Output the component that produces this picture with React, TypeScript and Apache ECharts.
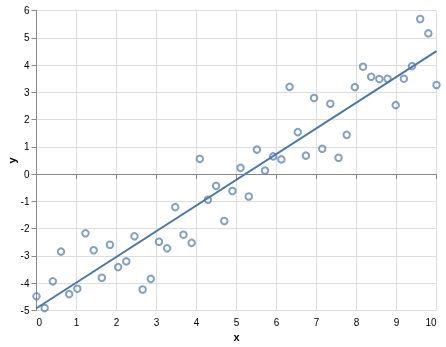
import React, { useEffect, useRef } from "react";
import * as echarts from "echarts";

const xValues = [
  0, 0.204, 0.408, 0.612, 0.816, 1.02, 1.224, 1.429, 1.633, 1.837,
  2.041, 2.245, 2.449, 2.653, 2.857, 3.061, 3.265, 3.469, 3.673, 3.878,
  4.082, 4.286, 4.49, 4.694, 4.898, 5.102, 5.306, 5.51, 5.714, 5.918,
  6.122, 6.327, 6.531, 6.735, 6.939, 7.143, 7.347, 7.551, 7.755, 7.959,
  8.163, 8.367, 8.571, 8.776, 8.98, 9.184, 9.388, 9.592, 9.796, 10,
];

const yValues = [
  -4.48, -4.91, -3.93, -2.84, -4.4, -4.2, -2.17, -2.79, -3.8, -2.59,
  -3.41, -3.2, -2.28, -4.23, -3.84, -2.48, -2.72, -1.21, -2.22, -2.52,
  0.56, -0.94, -0.43, -1.72, -0.62, 0.23, -0.82, 0.9, 0.13, 0.65,
  0.54, 3.2, 1.54, 0.68, 2.79, 0.93, 2.58, 0.6, 1.44, 3.19,
  3.94, 3.57, 3.49, 3.5, 2.53, 3.5, 3.96, 5.69, 5.16, 3.27,
];

const FONT = "Liberation Sans, Arial, Helvetica, sans-serif";
const BLUE = "#4c78a8";

function regression(xs: number[], ys: number[]) {
  const n = xs.length;
  const mx = xs.reduce((a, b) => a + b, 0) / n;
  const my = ys.reduce((a, b) => a + b, 0) / n;
  let num = 0;
  let den = 0;
  for (let i = 0; i < n; i++) {
    num += (xs[i] - mx) * (ys[i] - my);
    den += (xs[i] - mx) * (xs[i] - mx);
  }
  const slope = num / den;
  const intercept = my - slope * mx;
  return { slope, intercept };
}

export default function App() {
  const ref = useRef<HTMLDivElement>(null);
  useEffect(() => {
    if (!ref.current) return;
    const chart = echarts.init(ref.current, undefined, { renderer: "svg" });
    const points = xValues.map((x, i) => [x, yValues[i]]);
    const { slope, intercept } = regression(xValues, yValues);
    const xMin = Math.min(...xValues);
    const xMax = Math.max(...xValues);
    const linePts = [
      [xMin, intercept + slope * xMin],
      [xMax, intercept + slope * xMax],
    ];
    const axisCommon = {
      type: "value" as const,
      interval: 1,
      axisLine: { show: true, lineStyle: { color: "#888", width: 1 } },
      axisTick: { show: true, length: 5, lineStyle: { color: "#888" } },
      splitLine: { show: true, lineStyle: { color: "#ddd", width: 1 } },
      axisLabel: { color: "#000", fontSize: 10, fontFamily: FONT },
      nameLocation: "middle" as const,
      nameMoveOverlap: false,
      nameTextStyle: { color: "#000", fontSize: 11, fontWeight: "bold" as const, fontFamily: FONT },
    };
    chart.setOption({
      animation: false,
      grid: {
        left: 36.5,
        right: 9.5,
        top: 10.5,
        bottom: 36.5,
        containLabel: false,
        outerBoundsMode: "none",
      },
      xAxis: {
        ...axisCommon,
        min: 0,
        max: 10,
        name: "x",
        nameGap: 21,
        axisLabel: { ...axisCommon.axisLabel, margin: 7, alignMinLabel: "left", alignMaxLabel: "right" },
      },
      yAxis: {
        ...axisCommon,
        min: -5,
        max: 6,
        name: "y",
        nameGap: 19,
        nameRotate: 90,
        axisLabel: { ...axisCommon.axisLabel, margin: 7 },
      },
      series: [
        {
          type: "scatter",
          data: points,
          symbol: "circle",
          symbolSize: 6.5,
          itemStyle: { color: "rgba(255,255,255,0)", borderColor: BLUE, borderWidth: 2, opacity: 0.7 },
          z: 3,
        },
        {
          type: "line",
          data: linePts,
          showSymbol: false,
          lineStyle: { color: BLUE, width: 2 },
          z: 4,
        },
      ],
    });
    return () => chart.dispose();
  }, []);
  return (
    <div
      ref={ref}
      style={{ position: "fixed", left: 0, top: 0, width: 446, height: 347 }}
    />
  );
}
